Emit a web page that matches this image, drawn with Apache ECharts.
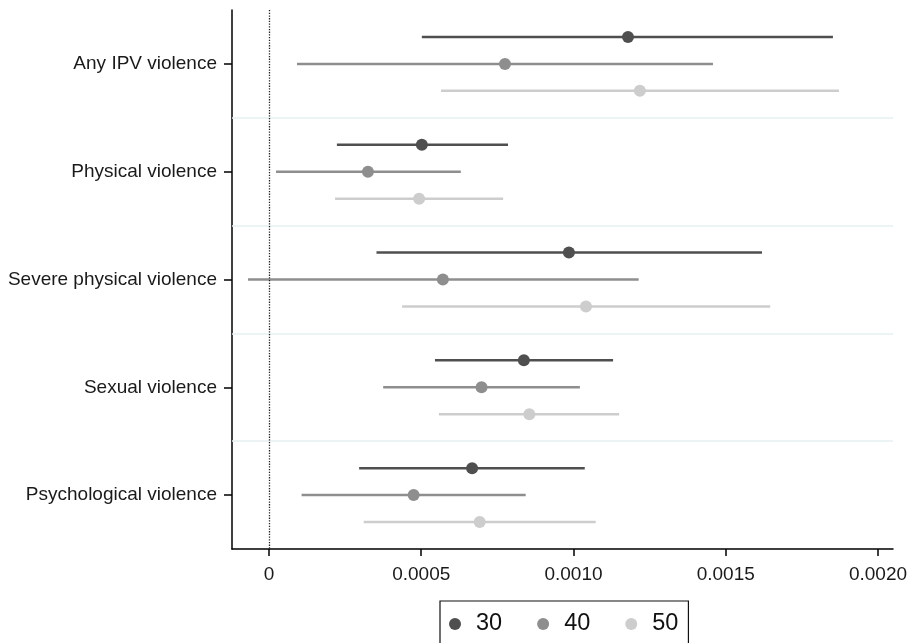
<!DOCTYPE html>
<html><head><meta charset="utf-8">
<script src="https://cdn.jsdelivr.net/npm/echarts@6/dist/echarts.min.js"></script>
<style>html,body{margin:0;padding:0;background:#fff}#c{width:914px;height:643px}</style>
</head><body><div id="c"></div>
<script>
const categories = ['Any IPV violence','Physical violence','Severe physical violence','Sexual violence','Psychological violence'];
const groups = ['30','40','50'];
const est30 = [0.001179, 0.000502, 0.000985, 0.000837, 0.000667];
const lo30  = [0.000502, 0.000223, 0.000353, 0.000545, 0.000296];
const hi30  = [0.001852, 0.000785, 0.001619, 0.001130, 0.001037];
const est40 = [0.000775, 0.000325, 0.000571, 0.000698, 0.000475];
const lo40  = [0.000092, 0.000023, -0.000069, 0.000375, 0.000107];
const hi40  = [0.001458, 0.000630, 0.001214, 0.001021, 0.000843];
const est50 = [0.001218, 0.000493, 0.001041, 0.000855, 0.000692];
const lo50  = [0.000565, 0.000217, 0.000437, 0.000558, 0.000311];
const hi50  = [0.001872, 0.000769, 0.001646, 0.001150, 0.001073];
const xTicks = [0, 0.0005, 0.0010, 0.0015, 0.0020];
const xTickLabels = ['0','0.0005','0.0010','0.0015','0.0020'];

const colors = ['#4f4f4f', '#8e8e8e', '#cdcdcd'];
const offsets = [-0.25, 0, 0.25];
const ests = [est30, est40, est50];
const los = [lo30, lo40, lo50];
const his = [hi30, hi40, hi50];
const catPos = categories.map((c, i) => i + 1);

const series = [];
groups.forEach((g, k) => {
  series.push({
    name: 'ci' + g, type: 'custom', silent: true,
    data: categories.map((c, i) => [los[k][i], his[k][i], catPos[i] + offsets[k]]),
    encode: { x: [0, 1], y: 2 },
    renderItem: (params, api) => {
      const a = api.coord([api.value(0), api.value(2)]);
      const b = api.coord([api.value(1), api.value(2)]);
      return { type: 'line', shape: { x1: a[0], y1: a[1], x2: b[0], y2: b[1] },
        style: { stroke: colors[k], lineWidth: 2.5 } };
    },
    z: 2
  });
});
groups.forEach((g, k) => {
  series.push({
    name: g, type: 'scatter', symbol: 'circle', symbolSize: 12,
    itemStyle: { color: colors[k], opacity: 1 },
    data: categories.map((c, i) => [ests[k][i], catPos[i] + offsets[k]]),
    z: 3
  });
});
series.push({
  name: 'refs', type: 'scatter', data: [], silent: true,
  markLine: {
    silent: true, symbol: ['none', 'none'], label: { show: false }, animation: false,
    data: [
      { yAxis: 1.5, lineStyle: { color: '#e6eff1', width: 1.5, type: 'solid' } },
      { yAxis: 2.5, lineStyle: { color: '#e6eff1', width: 1.5, type: 'solid' } },
      { yAxis: 3.5, lineStyle: { color: '#e6eff1', width: 1.5, type: 'solid' } },
      { yAxis: 4.5, lineStyle: { color: '#e6eff1', width: 1.5, type: 'solid' } },
      { xAxis: 0, lineStyle: { color: '#222', width: 1.3, type: [1.3, 1.4] } }
    ]
  }
});

const chart = echarts.init(document.getElementById('c'), null, { renderer: 'canvas' });
chart.setOption({
  animation: false,
  backgroundColor: '#fff',
  textStyle: { fontFamily: 'Liberation Sans, Arial, sans-serif' },
  grid: { left: 232, right: 21, top: 10, bottom: 94, containLabel: false, outerBoundsMode: 'none' },
  legend: {
    data: groups, icon: 'circle', left: 440, top: 601, orient: 'horizontal',
    itemWidth: 12, itemHeight: 12, itemGap: 35,
    padding: [10, 10, 20, 9], borderColor: '#111', borderWidth: 1.2,
    textStyle: { fontSize: 23.5, color: '#111', padding: [0, 0, 0, 10], lineHeight: 26 },
    selectedMode: false
  },
  xAxis: {
    type: 'value', min: -0.0001215, max: 0.0020493,
    axisLine: { show: true, onZero: false, lineStyle: { color: '#000', width: 1.5 } },
    axisTick: { show: true, customValues: xTicks, length: 7, lineStyle: { color: '#000', width: 1.5 } },
    axisLabel: {
      customValues: xTicks, margin: 16, fontSize: 19, color: '#1a1a1a',
      formatter: v => { const i = xTicks.findIndex(t => Math.abs(t - v) < 1e-9); return i >= 0 ? xTickLabels[i] : ''; }
    },
    splitLine: { show: false }
  },
  yAxis: {
    type: 'value', min: 0.5, max: 5.5, inverse: true,
    axisLine: { show: true, onZero: false, lineStyle: { color: '#000', width: 1.5 } },
    axisTick: { show: true, customValues: catPos, length: 8, lineStyle: { color: '#000', width: 1.5 } },
    axisLabel: {
      customValues: catPos, margin: 15, fontSize: 19, color: '#1a1a1a',
      formatter: v => categories[Math.round(v) - 1] || ''
    },
    splitLine: { show: false }
  },
  series: series
});
</script></body></html>
